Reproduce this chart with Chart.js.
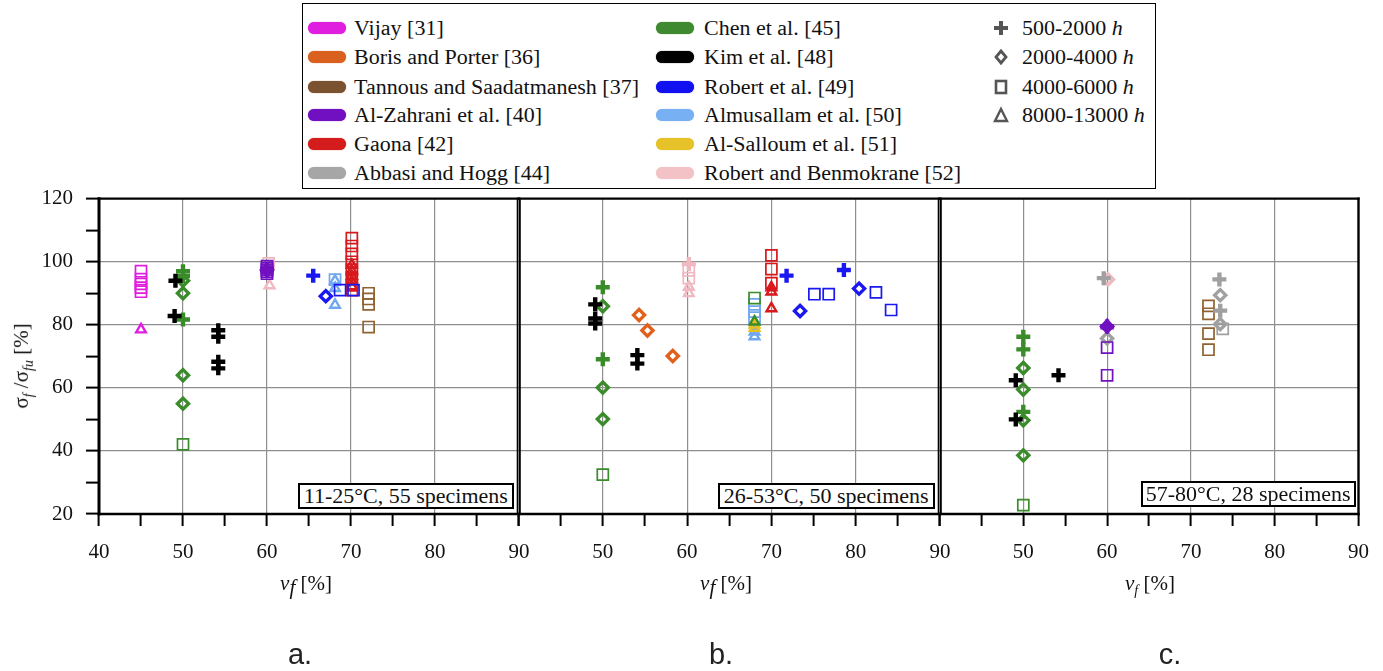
<!DOCTYPE html>
<html><head><meta charset="utf-8">
<script src="https://cdn.jsdelivr.net/npm/chart.js@4/dist/chart.umd.min.js"></script>
<style>
body{margin:0;background:#fff;width:1383px;height:671px;position:relative;overflow:hidden;font-family:'Liberation Serif','DejaVu Serif','Times New Roman',Times,serif;color:#111;}
canvas{position:absolute;left:0;top:0;}
.legend{position:absolute;left:302px;top:3px;width:852px;height:184px;border:1.6px solid #000;background:#fff;}
.sw{position:absolute;width:38px;height:12px;border-radius:6px;}
.lt{position:absolute;font-size:20px;line-height:22px;white-space:nowrap;transform:scaleX(1.1);transform-origin:left center;}
.mk{position:absolute;width:18px;height:18px;}
.note{position:absolute;height:22px;border:2px solid #000;background:#fff;font-size:20px;line-height:22px;text-align:center;white-space:nowrap;}
.note span{display:inline-block;transform:scaleX(1.1);}
.xt{position:absolute;width:120px;text-align:center;font-size:21px;line-height:24px;}
.yt{position:absolute;width:200px;text-align:center;font-size:21px;line-height:24px;transform:rotate(-90deg);}
.pl{position:absolute;width:60px;text-align:center;font-family:'Liberation Sans','DejaVu Sans',Arial,sans-serif;font-size:29px;line-height:32px;color:#222;}
</style></head><body>
<canvas id="cA" width="1383" height="671"></canvas>
<canvas id="cB" width="1383" height="671"></canvas>
<canvas id="cC" width="1383" height="671"></canvas>
<div id="overlay"></div>
<script>
// ---------------- data ----------------
const xTickLabels = [40, 50, 60, 70, 80, 90];
const yTickLabels = [20, 40, 60, 80, 100, 120];
const sourceNames = ['Vijay [31]','Boris and Porter [36]','Tannous and Saadatmanesh [37]','Al-Zahrani et al. [40]','Gaona [42]','Abbasi and Hogg [44]','Chen et al. [45]','Kim et al. [48]','Robert et al. [49]','Almusallam et al. [50]','Al-Salloum et al. [51]','Robert and Benmokrane [52]'];
const durationClasses = ['500-2000','2000-4000','4000-6000','8000-13000'];
const panelNotes = ['11-25°C, 55 specimens','26-53°C, 50 specimens','57-80°C, 28 specimens'];
const panelLetters = ['a.','b.','c.'];

// rows: [v_f (%), sigma_f/sigma_fu (%), duration class index]
// panel a: 11-25 °C
const a_vijay = [[45,97,2],[45,94.5,2],[45,93,2],[45,91.8,2],[45,90.5,2],[45,78.5,3]];
const a_chen = [[50,97,0],[50,95.5,0],[50,94,1],[50,90,1],[50,81.7,0],[50,64,1],[50,55,1],[50,42.1,2]];
const a_kim = [[49.1,94,0],[49,82.8,0],[54.2,78.3,0],[54.2,76.2,0],[54.2,68.3,0],[54.2,66.2,0]];
const a_alzahrani = [[60,98.6,2],[60,98,2],[60,97.4,2],[60,96.8,2],[60,96.2,2],[60,97.5,0],[60,97.4,1]];
const a_robben = [[60.2,99.5,2],[60.3,92.5,3]];
const a_robert = [[65.5,95.6,0],[67,89.1,1],[68.7,91,2],[70.3,91,2]];
const a_almusallam = [[68.1,94.3,2],[68.1,94,3],[68.1,91.6,3],[68.1,86.3,3]];
const a_gaona = [[70.1,107.5,2],[70.1,105,2],[70.1,102.5,2],[70.1,100,2],[70.1,97.5,2],[70.1,95,2],[70.1,92.5,2],[70.1,91,2],[70.1,99,3],[70.1,97.2,3],[70.1,95.5,3],[70.1,93.8,3],[70.1,92.2,3]];
const a_tannous = [[72.1,90,2],[72.1,88.2,2],[72.1,86.5,2],[72.1,79.3,2]];
// panel b: 26-53 °C
const b_chen = [[50,91.9,0],[50,85.9,1],[50,69.1,0],[50,60.1,1],[50,50.1,1],[50,32.5,2],[68,88.5,2],[68,81,3]];
const b_kim = [[49.1,86.5,0],[49.1,82,0],[49.1,80.4,0],[54.1,70.4,0],[54.1,67.7,0]];
const b_boris = [[54.3,83.1,1],[55.3,78.2,1],[58.3,70.1,1]];
const b_robben = [[60.2,99.3,0],[60.2,97.3,2],[60.2,94.8,2],[60.2,92,3],[60.2,90,3]];
const b_almusallam = [[68,86.5,2],[68,84.2,2],[68,82.3,2],[68,77.8,3],[68,76.3,3]];
const b_alsalloum = [[68,80,3],[68,79,3]];
const b_gaona = [[70,102,2],[70,97.7,2],[70,93.2,2],[70,91.8,3],[70,90.5,3],[70,85.2,3]];
const b_robert = [[71.8,95.6,0],[73.4,84.4,1],[75.1,89.7,2],[76.8,89.7,2],[78.6,97.4,0],[80.4,91.5,1],[82.4,90.3,2],[84.2,84.7,2]];
// panel c: 57-80 °C
const c_chen = [[50,76.2,0],[50,72.2,0],[50,66.3,1],[50,59.5,1],[50,52.4,0],[50,49.7,1],[50,38.6,1],[50,22.8,2]];
const c_kim = [[49.1,62.4,0],[49.1,50,0],[54.2,64,0]];
const c_alzahrani = [[60,79.5,0],[60,79.5,1],[60,79.8,3],[60,72.8,2],[60,64,2]];
const c_robben = [[60.1,94.4,1]];
const c_abbasi = [[59.6,94.8,0],[60,75.7,1],[73.4,94.4,0],[73.5,89.4,1],[73.5,84.5,0],[73.5,80.2,1],[73.8,78.7,2]];
const c_tannous = [[72.1,86,2],[72.1,83.5,2],[72.1,77.2,2],[72.1,72.1,2]];

// ---------------- styles ----------------
const markerColors = ['#e01ee0','#e0601c','#8f6230','#7010c0','#d8181c','#a0a0a0','#3a8c2a','#000000','#1a18f0','#70a8f0','#e8c020','#f0b8c0'];
const swatchColors = ['#e01ee0','#d9601f','#7a5230','#7010c0','#d41c1c','#a6a6a6','#3f8a30','#000000','#1010f0','#78b0f4','#e6c228','#f2c2c6'];
const ptStyles = ['cross','rectRot','rect','triangle'];
const ptRadius = [7, 5.6, 7.8, 5.6];
const ptBorder = [4.4, 3.3, 1.7, 2.4];

function ds(srcIdx, rows){
  const col = markerColors[srcIdx];
  return {
    label: sourceNames[srcIdx],
    data: rows.map(r => ({x: r[0], y: r[1], d: r[2]})),
    borderColor: col,
    backgroundColor: 'rgba(0,0,0,0)',
    pointStyle: c => c.raw ? ptStyles[c.raw.d] : 'circle',
    pointRadius: c => c.raw ? ptRadius[c.raw.d] : 5,
    pointBorderWidth: c => c.raw ? ptBorder[c.raw.d] : 2,
    pointHoverRadius: c => c.raw ? ptRadius[c.raw.d] : 5,
    clip: false
  };
}
// first dataset is drawn on top
const panelA = [ds(7,a_kim), ds(6,a_chen), ds(0,a_vijay), ds(3,a_alzahrani), ds(8,a_robert), ds(4,a_gaona), ds(2,a_tannous), ds(9,a_almusallam), ds(11,a_robben)];
const panelB = [ds(7,b_kim), ds(6,b_chen), ds(1,b_boris), ds(8,b_robert), ds(4,b_gaona), ds(10,b_alsalloum), ds(9,b_almusallam), ds(11,b_robben)];
const panelC = [ds(7,c_kim), ds(6,c_chen), ds(3,c_alzahrani), ds(5,c_abbasi), ds(2,c_tannous), ds(11,c_robben)];

const W = 1383, H = 671, TOP = 198.7, BOTTOM = 514, XH = 60, YW = 99;
const GRID = '#8e8e8e';
const tickFont = {family: "'Liberation Serif', 'DejaVu Serif', 'Times New Roman', serif", size: 21};

const framePlugin = {
  id: 'frame',
  afterDatasetsDraw(chart, args, o){
    const a = chart.chartArea, ctx = chart.ctx;
    ctx.save(); ctx.strokeStyle = '#000'; ctx.lineCap = 'square';
    const seg = (x1,y1,x2,y2,w) => {ctx.lineWidth = w; ctx.beginPath(); ctx.moveTo(x1,y1); ctx.lineTo(x2,y2); ctx.stroke();};
    seg(a.left, a.top, a.right, a.top, 2.2);
    seg(a.left, a.bottom, a.right, a.bottom, 2.4);
    seg(a.left + o.li, a.top, a.left + o.li, a.bottom, o.lw);
    seg(a.right - o.ri, a.top, a.right - o.ri, a.bottom, o.rw);
    ctx.restore();
  }
};
Chart.register(framePlugin);

function makeChart(id, datasets, left, right, showY, showFirstX, frame){
  return new Chart(document.getElementById(id), {
    type: 'scatter',
    data: {datasets},
    options: {
      responsive: false, animation: false, devicePixelRatio: 1,
      events: [],
      layout: {padding: {left: showY ? left - YW : left, right: W - right, top: TOP, bottom: H - BOTTOM - XH}},
      plugins: {legend: {display: false}, tooltip: {enabled: false}, frame},
      scales: {
        x: {
          type: 'linear', min: xTickLabels[0], max: xTickLabels[xTickLabels.length-1],
          afterFit: s => { s.height = XH; },
          border: {display: false},
          grid: {
            color: c => (c.tick && c.tick.value % 10 === 0 && c.tick.value > 40 && c.tick.value < 90) ? GRID : 'rgba(0,0,0,0)',
            lineWidth: 1.2, tickColor: '#000', tickWidth: 2, tickLength: 12, drawTicks: true
          },
          ticks: {
            stepSize: 5, autoSkip: false, maxRotation: 0, padding: 14, color: '#111', font: tickFont,
            callback: v => (xTickLabels.includes(v) && (showFirstX || v !== xTickLabels[0])) ? String(v) : ''
          }
        },
        y: {
          type: 'linear', min: yTickLabels[0], max: yTickLabels[yTickLabels.length-1],
          afterFit: s => { s.width = showY ? YW : 0; },
          border: {display: false},
          grid: {
            color: c => (c.tick && c.tick.value % 20 === 0 && c.tick.value > 20 && c.tick.value < 120) ? GRID : 'rgba(0,0,0,0)',
            lineWidth: 1.2, tickColor: '#000', tickWidth: 2, tickLength: 13, drawTicks: showY
          },
          ticks: {
            display: showY, stepSize: 10, autoSkip: false, padding: 13, color: '#111', font: tickFont,
            callback: v => yTickLabels.includes(v) ? String(v) : ''
          }
        }
      }
    }
  });
}

makeChart('cA', panelA, 99, 519, true, true, {li: 0, lw: 3, ri: 1.4, rw: 1.8});
makeChart('cB', panelB, 518.5, 940, false, false, {li: 1.4, lw: 1.8, ri: 1.4, rw: 1.8});
makeChart('cC', panelC, 939.5, 1360, false, false, {li: 1.4, lw: 1.8, ri: 0, rw: 2.4});

// ---------------- text overlays ----------------
const ov = document.getElementById('overlay');
function add(html){ ov.insertAdjacentHTML('beforeend', html); }

// legend
add('<div class="legend"></div>');
const rowY = [28.3, 57.3, 86.7, 115, 144, 173.3];
const col1 = {sw: 308, tx: 354}, col2 = {sw: 656, tx: 704};
sourceNames.forEach((name, i) => {
  const c = i < 6 ? col1 : col2, y = rowY[i % 6];
  add(`<div class="sw" style="left:${c.sw}px;top:${y-6}px;background:${swatchColors[i]};box-shadow:0 0 1px ${swatchColors[i]};"></div>`);
  add(`<div class="lt" style="left:${c.tx}px;top:${y-11}px;">${name}</div>`);
});
const mkSvg = [
  '<svg class="mk" viewBox="0 0 18 18"><path d="M9 2V16M2 9H16" stroke="#555" stroke-width="4"/></svg>',
  '<svg class="mk" viewBox="0 0 18 18"><path d="M9 3L14 9L9 15L4 9Z" fill="none" stroke="#555" stroke-width="2.8"/></svg>',
  '<svg class="mk" viewBox="0 0 18 18"><rect x="4" y="3" width="10" height="12" fill="none" stroke="#555" stroke-width="2.6"/></svg>',
  '<svg class="mk" viewBox="0 0 18 18"><path d="M9 3L15 15H3Z" fill="none" stroke="#555" stroke-width="2.4"/></svg>'
];
durationClasses.forEach((d, i) => {
  const y = rowY[i];
  add(`<div style="position:absolute;left:992px;top:${y-9}px;">${mkSvg[i]}</div>`);
  add(`<div class="lt" style="left:1022px;top:${y-11}px;">${d} <i>h</i></div>`);
});

// y title
add('<div class="yt" style="left:-75px;top:350px;">σ<sub style="font-size:14px;"><i>f</i></sub> /σ<sub style="font-size:14px;"><i>fu</i></sub> [%]</div>');
// x titles
add('<div class="xt" style="left:246px;top:571px;"><i>v</i><i style="position:relative;top:4px;">f</i> [%]</div>');
add('<div class="xt" style="left:666px;top:571px;"><i>v</i><i style="position:relative;top:4px;">f</i> [%]</div>');
add('<div class="xt" style="left:1090px;top:571px;"><i>v</i><sub style="font-size:14px;"><i>f</i></sub> [%]</div>');
// panel notes
const notePos = [[298,483,212],[718,483,213],[1141,481,211]];
panelNotes.forEach((t, i) => {
  const p = notePos[i];
  add(`<div class="note" style="left:${p[0]}px;top:${p[1]}px;width:${p[2]}px;"><span>${t}</span></div>`);
});
// panel letters
[[270,638],[691,638],[1140,638]].forEach((p, i) => add(`<div class="pl" style="left:${p[0]}px;top:${p[1]}px;">${panelLetters[i]}</div>`));
</script>
</body></html>
